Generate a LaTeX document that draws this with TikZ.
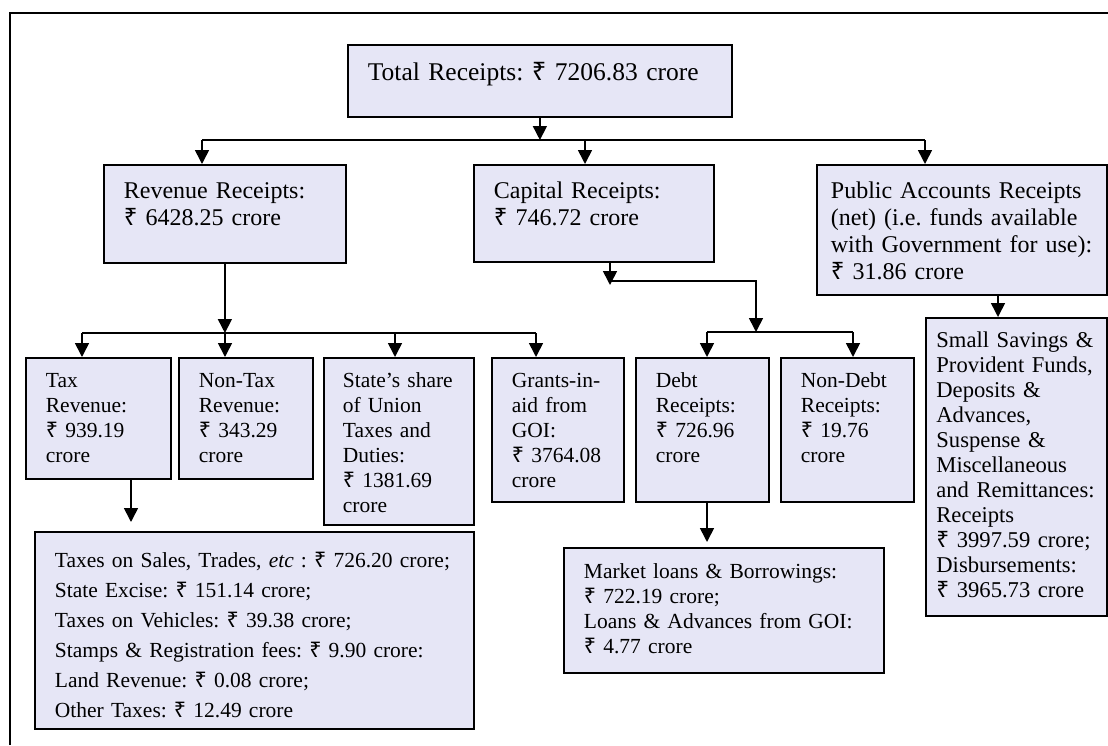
\documentclass[tikz,border=0pt]{standalone}
\usepackage{fontspec}
\setmainfont{Liberation Serif}
\newfontfamily\rupeefont{Noto Sans}
\usepackage{tikz}
\usetikzlibrary{
    arrows.meta,
    calc
}
\definecolor{rcptfill}{RGB}{230,230,246}
\newcommand{\rs}{{\rupeefont ₹}}
\frenchspacing
\tikzset{
    rcptbox/.style = {draw=black, fill=rcptfill, line width=1.8pt,
      anchor=north west, align=left, inner xsep=20pt, inner ysep=0pt}
  }
\tikzset{
    bigtext/.style = {font=\fontsize{25.5}{30}\selectfont},
    midtext/.style = {font=\fontsize{24}{27}\selectfont},
    lowtext/.style = {font=\fontsize{21.5}{25}\selectfont}
  }
\tikzset{
    flow/.style = {line width=1.6pt, -{Triangle[width=14pt,length=14pt]}},
    busline/.style = {line width=1.6pt}
  }

\begin{document}
\begin{tikzpicture}[x=1pt,y=-1pt]

\useasboundingbox (0,0) rectangle (1108,745);
\draw[line width=1.6pt] (10,745) -- (10,13) -- (1108,13);

\node[rcptbox, bigtext, text width=344pt, text height=36pt,
      text depth=36pt]
  at (347,44) (total) {Total Receipts: \rs{} 7206.83 crore};

\node[rcptbox, midtext, text width=202pt, text height=34pt,
      text depth=64pt]
  at (103,164) (revenue) {Revenue Receipts:\\ \rs{} 6428.25 crore};

\node[rcptbox, midtext, text width=200pt, text height=34pt,
      text depth=63pt]
  at (473,164) (capital) {Capital Receipts:\\ \rs{} 746.72 crore};

\node[rcptbox, midtext, text width=262pt, inner xsep=14pt,
      text height=34pt, text depth=96pt]
  at (816,164) (public)
  {Public Accounts Receipts\\ (net) (i.e. funds available\\
   \mbox{with Government for use):}\\ \rs{} 31.86 crore};

\node[rcptbox, font=\fontsize{22.6}{25}\selectfont, text width=160pt,
      inner xsep=10.5pt, text height=30pt, text depth=268pt]
  at (925,317) (smallsav)
  {Small Savings \&\\ Provident Funds,\\ Deposits \&\\ Advances,\\
   Suspense \&\\ Miscellaneous\\ and Remittances:\\ Receipts\\
   \rs{} 3997.59 crore;\\ Disbursements:\\ \rs{} 3965.73 crore};

\node[rcptbox, lowtext, text width=105pt, text height=30pt,
      text depth=91pt]
  at (25,357) (tax) {Tax\\ Revenue:\\ \rs{} 939.19\\ crore};

\node[rcptbox, lowtext, text width=94pt, text height=30pt,
      text depth=91pt]
  at (178,357) (nontax) {Non-Tax\\ Revenue:\\ \rs{} 343.29\\ crore};

\node[rcptbox, lowtext, text width=112pt, inner xsep=19pt,
      text height=30pt, text depth=137pt]
  at (323,357) (state)
  {State’s share\\ of Union\\ Taxes and\\ Duties:\\ \rs{} 1381.69\\ crore};

\node[rcptbox, lowtext, text width=92pt, text height=30pt,
      text depth=114pt]
  at (491,357) (grants)
  {Grants-in-\\ aid from\\ GOI:\\ \rs{} 3764.08\\ crore};

\node[rcptbox, lowtext, text width=93pt, text height=30pt,
      text depth=114pt]
  at (635,357) (debt) {Debt\\ Receipts:\\ \rs{} 726.96\\ crore};

\node[rcptbox, lowtext, text width=93pt, text height=30pt,
      text depth=114pt]
  at (780,357) (nondebt) {Non-Debt\\ Receipts:\\ \rs{} 19.76\\ crore};

\node[rcptbox, font=\fontsize{21.5}{30}\selectfont, text width=399pt,
      text height=36pt, text depth=161pt]
  at (34,531) (taxdetail)
  {Taxes on Sales, Trades, \textit{etc} : \rs{} 726.20 crore;\\
   State Excise: \rs{} 151.14 crore;\\
   Taxes on Vehicles: \rs{} 39.38 crore;\\
   Stamps \& Registration fees: \rs{} 9.90 crore:\\
   Land Revenue: \rs{} 0.08 crore;\\
   Other Taxes: \rs{} 12.49 crore};

\node[rcptbox, lowtext, text width=280pt, text height=31pt,
      text depth=94pt]
  at (563,547) (market)
  {Market loans \& Borrowings:\\ \rs{} 722.19 crore;\\
   Loans \& Advances from GOI:\\ \rs{} 4.77 crore};

\coordinate (t1) at (202,140);
\coordinate (t2) at (585,140);
\coordinate (t3) at (925,140);
\draw[flow] (total.south) -- (total.south |- t1);
\draw[busline] (t1) -- (t3);
\foreach \c/\n in {t1/revenue, t2/capital, t3/public}
  \draw[flow] (\c) -- (\c |- \n.north);

\coordinate (r1) at (82,333);
\coordinate (r2) at (225,333);
\coordinate (r3) at (395,333);
\coordinate (r4) at (536,333);
\draw[flow] (revenue.south) -- (revenue.south |- r1);
\draw[busline] (r1) -- (r4);
\foreach \c/\n in {r1/tax, r2/nontax, r3/state, r4/grants}
  \draw[flow] (\c) -- (\c |- \n.north);

\coordinate (c0) at (610,285);
\coordinate (c1) at (756,281);
\coordinate (d1) at (707,332);
\coordinate (d2) at (853,332);
\draw[flow] (capital.south -| c0) -- (c0);
\draw[flow] (c0 |- c1) -- (c1) -- (c1 |- d1);
\draw[busline] (d1) -- (d2);
\foreach \c/\n in {d1/debt, d2/nondebt}
  \draw[flow] (\c) -- (\c |- \n.north);

\coordinate (p0) at (998,317);
\draw[flow] (public.south -| p0) -- (p0 |- smallsav.north);

\coordinate (x0) at (131,522);
\draw[flow] (tax.south -| x0) -- (x0);

\coordinate (m0) at (707,542);
\draw[flow] (debt.south -| m0) -- (m0);

\end{tikzpicture}
\end{document}
